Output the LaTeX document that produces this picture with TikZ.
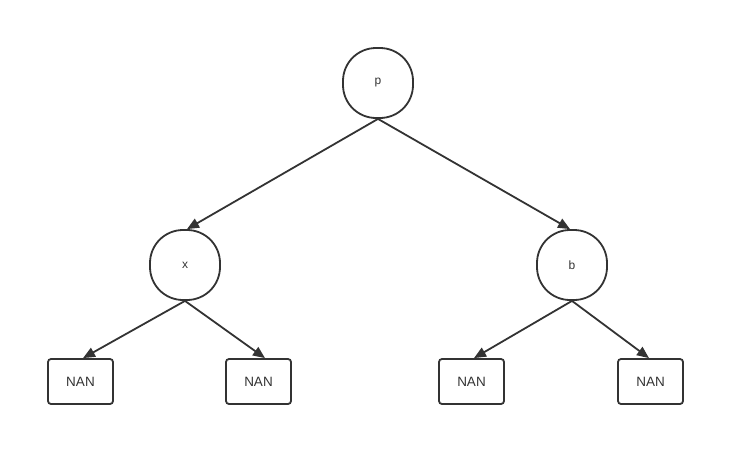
\documentclass[tikz,border=0pt]{standalone}
\usepackage{fontspec}
\setmainfont{Liberation Sans}
\usetikzlibrary{arrows.meta,calc}
\definecolor{ink}{HTML}{333333}
\begin{document}
\begin{tikzpicture}[x=1pt,y=-1pt,
  roundnode/.style={draw=ink,line width=1.8pt,rounded corners=33pt,minimum width=70pt,minimum height=70pt,inner sep=0pt,font=\fontsize{12}{14}\selectfont,text=ink},
  leafnode/.style={draw=ink,line width=1.8pt,rounded corners=3pt,minimum width=65pt,minimum height=45pt,inner sep=0pt,font=\fontsize{13.5}{16}\selectfont,text=ink},
  edge/.style={draw=ink,line width=1.8pt,-{Triangle[length=12pt,width=10pt]}}]
\useasboundingbox (0,0) rectangle (745,466);
\node[roundnode] (p) at (378,83) {p};
\node[roundnode] (x) at (185,265) {x};
\node[roundnode] (b) at (572,265) {b};
\node[leafnode] (l1) at (80.5,381.5) {NAN};
\node[leafnode] (l2) at (258.5,381.5) {NAN};
\node[leafnode] (l3) at (471.5,381.5) {NAN};
\node[leafnode] (l4) at (650.5,381.5) {NAN};
\draw[edge] (p.south) -- ($(x.north)+(2,0)$);
\draw[edge] (p.south) -- ($(b.north)+(-2,0)$);
\draw[edge] (x.south) -- ($(l1.north)+(2.5,0)$);
\draw[edge] (x.south) -- ($(l2.north)+(6.5,0)$);
\draw[edge] (b.south) -- ($(l3.north)+(2.5,0)$);
\draw[edge] (b.south) -- ($(l4.north)+(-1.5,0)$);
\end{tikzpicture}
\end{document}
